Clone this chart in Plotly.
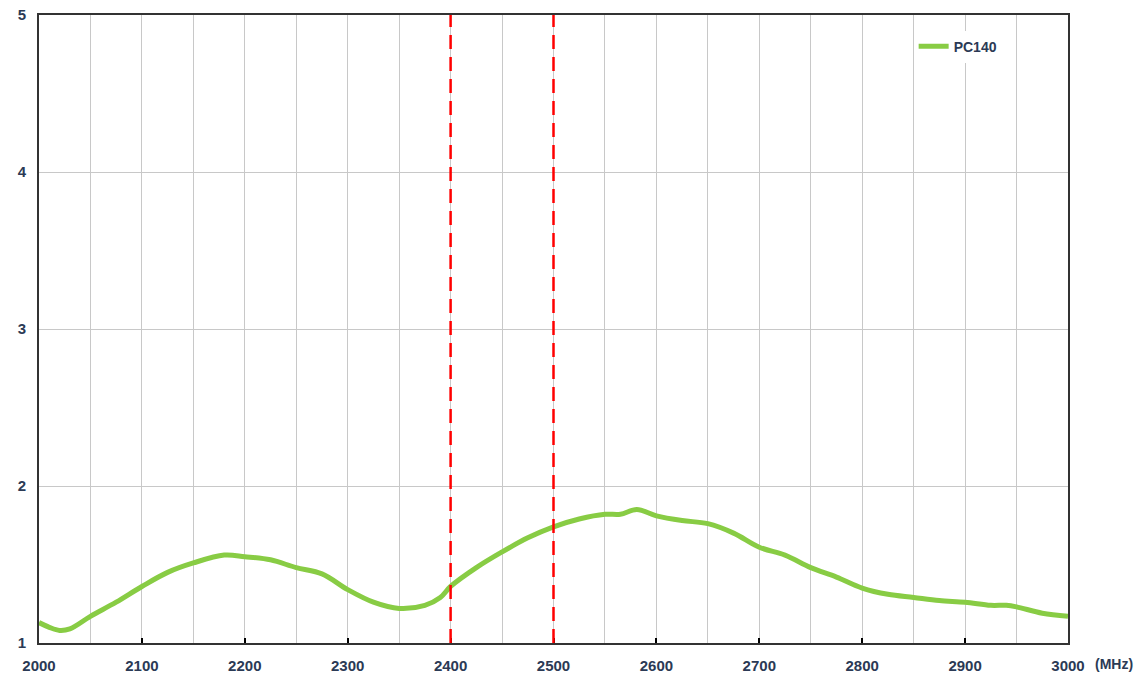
import plotly.graph_objects as go

freq = [2000, 2010, 2020, 2030, 2050, 2075, 2100, 2125, 2150, 2180, 2200, 2225, 2250, 2275, 2300, 2325, 2350, 2375, 2390, 2400,
        2425, 2450, 2475, 2500, 2525, 2550, 2565, 2581, 2600, 2625, 2650, 2675, 2700, 2725, 2750, 2775, 2800, 2825, 2850,
        2875, 2900, 2925, 2940, 2950, 2975, 3000]
pc140 = [1.13, 1.10, 1.08, 1.09, 1.17, 1.26, 1.36, 1.45, 1.51, 1.56, 1.55, 1.53, 1.48, 1.44, 1.34, 1.26, 1.22, 1.24, 1.29, 1.36,
         1.48, 1.58, 1.67, 1.74, 1.79, 1.82, 1.82, 1.85, 1.81, 1.78, 1.76, 1.70, 1.61, 1.56, 1.48, 1.42, 1.35, 1.31, 1.29,
         1.27, 1.26, 1.24, 1.24, 1.23, 1.19, 1.17]
markers = [2400, 2500]
xticks = list(range(2000, 3001, 100))
yticks = [1, 2, 3, 4, 5]

font_family = "Liberation Sans Narrow, Liberation Sans, Arial"
txt = "#2b3a55"

fig = go.Figure()
fig.add_trace(go.Scatter(x=freq, y=pc140, mode="lines", name="PC140",
                         line=dict(color="#88cc44", width=5, shape="spline", smoothing=1.0)))
for m in markers:
    fig.add_shape(type="line", x0=m, x1=m, y0=1, y1=5, xref="x", yref="y",
                  line=dict(color="#ff0000", width=2.5, dash="14px,8px"))

fig.update_layout(
    width=1144, height=681,
    margin=dict(l=39, r=76, t=15, b=38, autoexpand=False),
    paper_bgcolor="white", plot_bgcolor="white",
    font=dict(family=font_family, size=14, color=txt, weight="bold"),
    showlegend=True,
    legend=dict(x=0.850, y=0.975, xanchor="left", yanchor="top", bgcolor="white",
                font=dict(family=font_family, size=14, color=txt, weight="bold"), itemwidth=30,
                tracegroupgap=0),
    xaxis=dict(range=[2000, 3000], tickvals=xticks,
               tickfont=dict(family=font_family, size=15, color=txt, weight="bold"),
               showgrid=True, gridcolor="#c8c8c8", gridwidth=1.3,
               minor=dict(dtick=50, showgrid=True, gridcolor="#c8c8c8", gridwidth=1.3, ticks=""),
               ticks="inside", ticklen=5, tickcolor="black", tickwidth=1.5,
               showline=True, linecolor="#333333", linewidth=2, mirror=True, zeroline=False,
               tickformat="d", automargin=False, ticklabelstandoff=8, ticklabeloverflow="allow"),
    yaxis=dict(range=[1, 5], tickvals=yticks,
               tickfont=dict(family=font_family, size=15, color=txt, weight="bold"),
               showgrid=True, gridcolor="#c8c8c8", gridwidth=1.3, ticks="",
               showline=True, linecolor="#333333", linewidth=2, mirror=True, zeroline=False,
               automargin=False, ticklabelstandoff=8, ticklabeloverflow="allow"),
)
fig.add_annotation(text="(MHz)", x=1.024, y=-0.018, xref="paper", yref="paper", xanchor="left", yanchor="top",
                   showarrow=False, font=dict(family=font_family, size=14, color=txt, weight="bold"))
# remove the browser's default 8px page margin so the figure sits at the window's corner
fig.write_html("out.html", config={"displayModeBar": False},
               post_script="document.body.style.margin='0';")
